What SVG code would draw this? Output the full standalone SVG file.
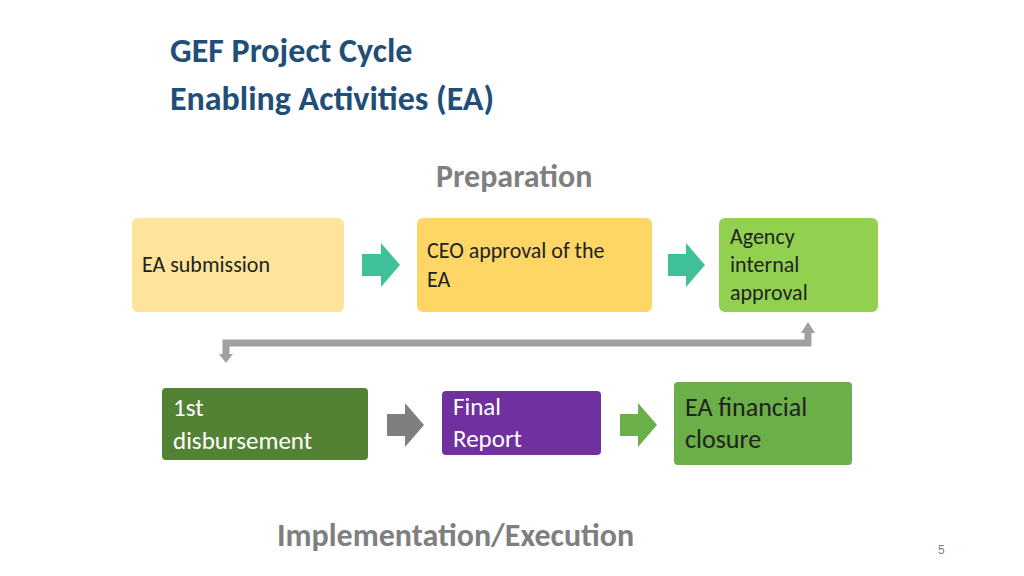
<svg xmlns="http://www.w3.org/2000/svg" width="1024" height="576" viewBox="0 0 1024 576">
<style>
text{font-family:Calibri,"Liberation Sans",sans-serif}
.t{fill:#1f4e79;font-size:34px;font-weight:bold}
.h{fill:#7f7f7f;font-size:32px;font-weight:bold}
.n{fill:#222;font-size:22px}
.w{fill:#fff;font-size:25px}
.d{fill:#222;font-size:26px}
</style>
<rect width="1024" height="576" fill="#fff"/>
<text class="t" x="170" y="62">GEF Project Cycle</text>
<text class="t" x="170" y="110">Enabling Activities (EA)</text>
<text class="h" x="436" y="187">Preparation</text>
<text class="h" x="277" y="546">Implementation/Execution</text>
<text x="938" y="554" font-size="12" fill="#7f7f7f" style="font-family:'Liberation Sans',sans-serif">5</text>
<g id="n1"><rect x="132" y="218" width="212" height="94" rx="6" fill="#fde49a"/><text class="n" x="142" y="272">EA submission</text></g>
<g id="n2"><rect x="417" y="218" width="235" height="94" rx="6" fill="#fdd666"/><text class="n" x="427" y="258">CEO approval of the</text><text class="n" x="427" y="287">EA</text></g>
<g id="n3"><rect x="719" y="218" width="159" height="94" rx="6" fill="#92d050"/><text class="n" x="730" y="244">Agency</text><text class="n" x="730" y="272">internal</text><text class="n" x="730" y="300">approval</text></g>
<g id="n4"><rect x="162" y="388" width="206" height="72" rx="4" fill="#548235"/><text class="w" x="173" y="416">1st</text><text class="w" x="173" y="449">disbursement</text></g>
<g id="n5"><rect x="442" y="391" width="159" height="64" rx="4" fill="#7030a0"/><text class="w" x="453" y="415">Final</text><text class="w" x="453" y="447">Report</text></g>
<g id="n6"><rect x="674" y="382" width="178" height="83" rx="4" fill="#6aaf47"/><text class="d" x="685" y="416" fill="#fff">EA financial</text><text class="d" x="685" y="448" fill="#fff">closure</text></g>
<g id="connectors">
<polygon points="362,254 381,254 381,243 400,265 381,287 381,276 362,276" fill="#3fbf9a"/>
<polygon points="668,254 686,254 686,243 705,265 686,287 686,276 668,276" fill="#3fbf9a"/>
<polygon points="387,414 405,414 405,403 424,425 405,447 405,436 387,436" fill="#7f7f7f"/>
<polygon points="620,414 638,414 638,403 657,425 638,447 638,436 620,436" fill="#6aaf47"/>
<polyline points="808,332 808,343 226,343 226,355" fill="none" stroke="#a0a0a0" stroke-width="7"/>
<polygon points="801,333 815,333 808,322" fill="#a0a0a0"/>
<polygon points="219,354 233,354 226,363" fill="#a0a0a0"/>
</g>
</svg>
